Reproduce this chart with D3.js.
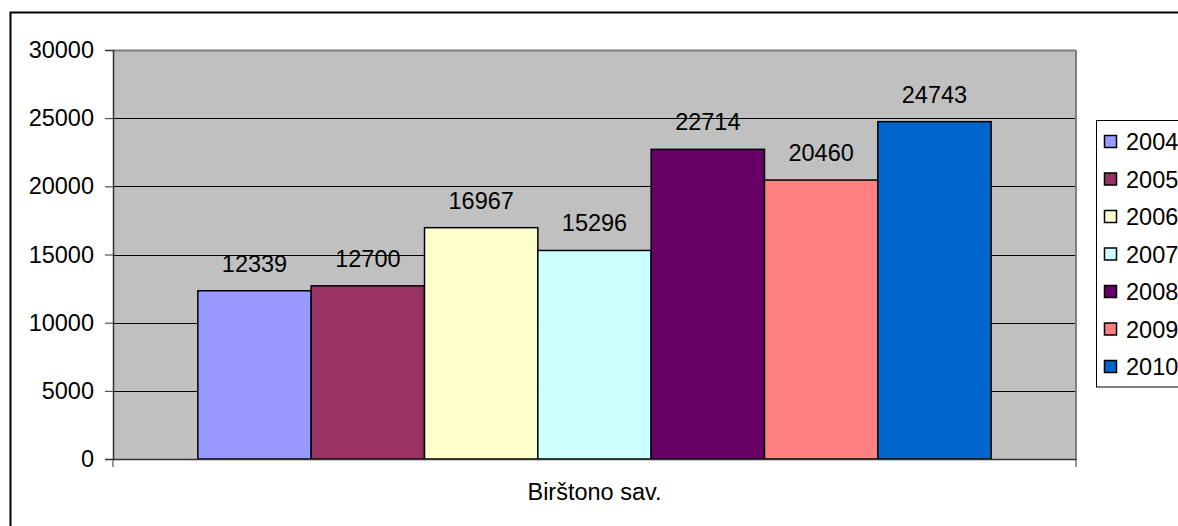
<!DOCTYPE html>
<html>
<head>
<meta charset="utf-8">
<script src="https://cdn.jsdelivr.net/npm/d3@7/dist/d3.min.js"></script>
<style>
body { margin:0; background:#fff; }
svg { display:block; font-family: "Liberation Sans", Arial, sans-serif; }
</style>
</head>
<body>
<svg id="c" width="1178" height="526"></svg>
<script>
const categories = ["Birštono sav."];
const years = ["2004","2005","2006","2007","2008","2009","2010"];
const values = [12339, 12700, 16967, 15296, 22714, 20460, 24743];
const colors = ["#9999FF","#993366","#FFFFCC","#CCFFFF","#660066","#FF8080","#0066CC"];
const yTicks = [0,5000,10000,15000,20000,25000,30000];

const svg = d3.select("#c");
const FS = 23.5;
const m = {left:113, top:50, right:1076, bottom:459};

// outer frame
svg.append("rect").attr("x",10.5).attr("y",12.5).attr("width",1200).attr("height",600)
  .attr("fill","#fff").attr("stroke","#000").attr("stroke-width",2);

const y = d3.scaleLinear().domain([0,30000]).range([m.bottom, m.top]);
const x0 = d3.scaleBand().domain(categories).range([m.left, m.right]).paddingOuter(0.107).paddingInner(0);
const x1 = d3.scaleBand().domain(years).range([0, x0.bandwidth()]).padding(0);

// plot bg
svg.append("rect").attr("x",m.left).attr("y",m.top).attr("width",m.right-m.left).attr("height",m.bottom-m.top)
  .attr("fill","#C0C0C0");

// gridlines
svg.append("g").selectAll("line").data(yTicks.filter(d=>d>0)).join("line")
  .attr("x1",m.left).attr("x2",m.right)
  .attr("y1",d=>Math.round(y(d))+0.5).attr("y2",d=>Math.round(y(d))+0.5)
  .attr("stroke",d=>d===30000?"#808080":"#000").attr("stroke-width",d=>d===30000?2:1);
// right border
svg.append("line").attr("x1",m.right).attr("x2",m.right).attr("y1",m.top).attr("y2",m.bottom)
  .attr("stroke","#808080").attr("stroke-width",2);

// bars
const g = svg.append("g").attr("transform",`translate(${x0(categories[0])},0)`);
g.selectAll("rect").data(values).join("rect")
  .attr("x",(d,i)=>x1(years[i]))
  .attr("y",d=>y(d))
  .attr("width",x1.bandwidth())
  .attr("height",d=>m.bottom-y(d))
  .attr("fill",(d,i)=>colors[i])
  .attr("stroke","#000").attr("stroke-width",1.5);
g.selectAll("text").data(values).join("text")
  .attr("x",(d,i)=>x1(years[i])+x1.bandwidth()/2)
  .attr("y",d=>y(d)-19)
  .attr("text-anchor","middle").attr("font-size",FS).attr("fill","#000")
  .text(d=>d);

// y axis
const yAxis = d3.axisLeft(y).tickValues(yTicks).tickSize(8).tickPadding(11).tickFormat(d=>d);
const ya = svg.append("g").attr("transform",`translate(${m.left},0)`).call(yAxis);
ya.select(".domain").attr("stroke","#333").attr("stroke-width",1.5);
ya.selectAll(".tick line").attr("stroke","#333");
ya.selectAll(".tick text").attr("font-size",FS).attr("fill","#000").attr("font-family","Liberation Sans, Arial, sans-serif");

// x axis
const xAxis = d3.axisBottom(x0).tickSize(0).tickPadding(24);
const xa = svg.append("g").attr("transform",`translate(0,${m.bottom})`).call(xAxis);
xa.select(".domain").attr("stroke","#333").attr("stroke-width",1.5);
xa.selectAll(".tick text").attr("font-size",FS).attr("fill","#000").attr("font-family","Liberation Sans, Arial, sans-serif");
// x boundary ticks
xa.append("g").selectAll("line").data([m.left, m.right]).join("line")
  .attr("x1",d=>d).attr("x2",d=>d).attr("y1",0).attr("y2",8).attr("stroke","#333");

// legend
const lg = svg.append("g");
lg.append("rect").attr("x",1096.5).attr("y",120.5).attr("width",200).attr("height",266.5)
  .attr("fill","#fff").attr("stroke","#000").attr("stroke-width",1);
const ly = d3.scalePoint().domain(years).range([142, 367]);
const items = lg.selectAll("g.item").data(years).join("g").attr("class","item")
  .attr("transform",d=>`translate(0,${ly(d)})`);
items.append("rect").attr("x",1104.5).attr("y",-6.5).attr("width",12).attr("height",12)
  .attr("fill",(d,i)=>colors[i]).attr("stroke","#000").attr("stroke-width",1.5);
items.append("text").attr("x",1126).attr("y",8).attr("font-size",FS).attr("fill","#000").text(d=>d);
</script>
</body>
</html>
